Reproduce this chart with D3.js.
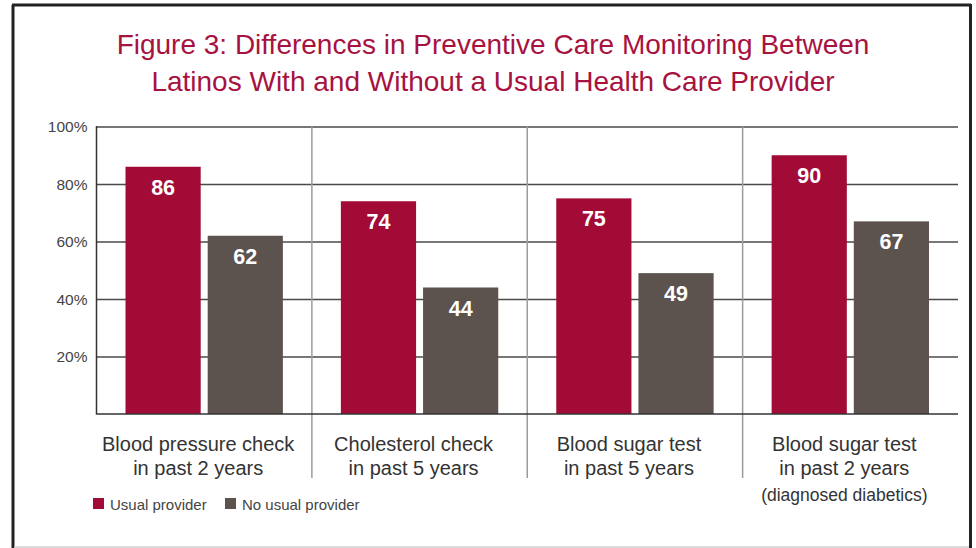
<!DOCTYPE html>
<html>
<head>
<meta charset="utf-8">
<script src="https://cdn.jsdelivr.net/npm/d3@7"></script>
<style>
  html, body { margin: 0; padding: 0; background: #fff; }
  svg { display: block; font-family: "Liberation Sans", Arial, Helvetica, sans-serif; }
</style>
</head>
<body>
<svg id="chart" width="976" height="548"></svg>
<script>
const titleLines = [
  "Figure 3: Differences in Preventive Care Monitoring Between",
  "Latinos With and Without a Usual Health Care Provider"
];
const categories = [
  ["Blood pressure check", "in past 2 years"],
  ["Cholesterol check", "in past 5 years"],
  ["Blood sugar test", "in past 5 years"],
  ["Blood sugar test", "in past 2 years", "(diagnosed diabetics)"]
];
const categoryKeys = ["bp", "chol", "sugar5", "sugar2"];
const seriesNames = ["Usual provider", "No usual provider"];
const usualProvider = [86, 74, 75, 90];
const noUsualProvider = [62, 44, 49, 67];
const yTicks = [20, 40, 60, 80, 100];
const colors = ["#a20b35", "#5c524e"];

const svg = d3.select("#chart");

// frame
svg.append("line").attr("x1", 13).attr("x2", 13).attr("y1", 5).attr("y2", 548).attr("stroke", "#222").attr("stroke-width", 3);
svg.append("line").attr("x1", 12).attr("x2", 971).attr("y1", 5).attr("y2", 5).attr("stroke", "#222").attr("stroke-width", 3);
svg.append("line").attr("x1", 970.5).attr("x2", 970.5).attr("y1", 4).attr("y2", 548).attr("stroke", "#222").attr("stroke-width", 3);
svg.append("line").attr("x1", 14).attr("x2", 969).attr("y1", 547).attr("y2", 547).attr("stroke", "#cfcfcf").attr("stroke-width", 1.5);

// title
svg.append("g").selectAll("text").data(titleLines).join("text")
  .attr("x", 493).attr("y", (d, i) => 54 + i * 37)
  .attr("text-anchor", "middle")
  .attr("fill", "#a8123f")
  .attr("font-size", 28)
  .text(d => d);

const pLeft = 96.5, pRight = 958, pTop = 126.5, pBottom = 414;
const y = d3.scaleLinear().domain([0, 100]).range([pBottom, pTop]);
const x = d3.scaleBand().domain(categoryKeys).range([pLeft, pRight]).padding(0);
const xSub = d3.scaleBand().domain(seriesNames).range([29, x.bandwidth() - 29]).paddingInner(0.085);

// gridlines
const yAxis = d3.axisLeft(y).tickValues(yTicks).tickSize(-(pRight - pLeft)).tickFormat(d => d + "%");
const gy = svg.append("g").attr("transform", `translate(${pLeft},0)`).call(yAxis);
gy.select(".domain").remove();
gy.selectAll(".tick line").attr("stroke", "#4a4a4a").attr("stroke-width", 1.5);
gy.selectAll(".tick text").attr("x", -9).attr("dy", "0.35em").attr("fill", "#444").attr("font-size", 15.5).attr("font-family", "Liberation Sans, Arial, sans-serif");

// vertical separators
svg.append("g").selectAll("line").data(categoryKeys.slice(1)).join("line")
  .attr("x1", d => x(d)).attr("x2", d => x(d))
  .attr("y1", pTop).attr("y2", 478)
  .attr("stroke", "#a09a98").attr("stroke-width", 1.5);

// bars
const rows = categoryKeys.map((k, i) => ({ key: k, values: [usualProvider[i], noUsualProvider[i]] }));
const groups = svg.append("g").selectAll("g").data(rows).join("g")
  .attr("transform", d => `translate(${x(d.key)},0)`);
groups.selectAll("rect").data(d => d.values.map((v, j) => ({ s: seriesNames[j], v, j }))).join("rect")
  .attr("x", d => xSub(d.s)).attr("width", xSub.bandwidth())
  .attr("y", d => y(d.v)).attr("height", d => y(0) - y(d.v))
  .attr("fill", d => colors[d.j]);
groups.selectAll("text.val").data(d => d.values.map((v, j) => ({ s: seriesNames[j], v, j }))).join("text")
  .attr("class", "val")
  .attr("x", d => xSub(d.s) + xSub.bandwidth() / 2)
  .attr("y", d => y(d.v) + 28)
  .attr("text-anchor", "middle")
  .attr("fill", "#fff").attr("font-weight", "bold").attr("font-size", 21.5)
  .text(d => d.v);

// axes lines
svg.append("line").attr("x1", pLeft).attr("x2", pLeft).attr("y1", pTop - 0.5).attr("y2", pBottom + 0.5).attr("stroke", "#333").attr("stroke-width", 1.5);
svg.append("line").attr("x1", pLeft).attr("x2", pRight).attr("y1", pBottom).attr("y2", pBottom).attr("stroke", "#333").attr("stroke-width", 1.5);

// category labels
const labelX = d => x(d) + x.bandwidth() / 2 - 6;
const cl = svg.append("g").selectAll("text").data(categoryKeys).join("text")
  .attr("x", labelX)
  .attr("text-anchor", "middle").attr("fill", "#333");
cl.each(function (d, i) {
  const t = d3.select(this);
  categories[i].forEach((line, k) => {
    t.append("tspan").attr("x", labelX(d))
      .attr("y", 451 + k * 24 + (k === 2 ? 2 : 0))
      .attr("font-size", k === 2 ? 17.5 : 20)
      .text(line);
  });
});

// legend
const legendX = [93, 225];
const lg = svg.append("g").selectAll("g").data(seriesNames).join("g")
  .attr("transform", (d, i) => `translate(${legendX[i]},498)`);
lg.append("rect").attr("width", 11).attr("height", 11).attr("fill", (d, i) => colors[i]);
lg.append("text").attr("x", 17).attr("y", 11.5).attr("font-size", 15).attr("fill", "#444").text(d => d);
</script>
</body>
</html>
